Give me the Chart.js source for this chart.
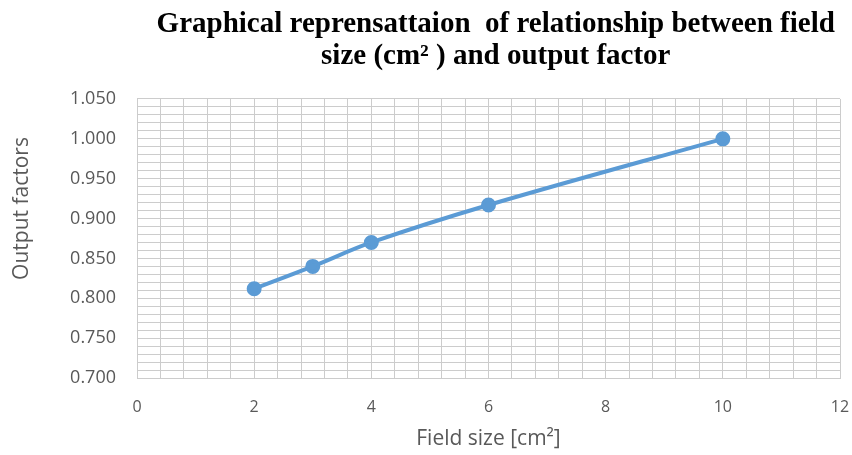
<!DOCTYPE html>
<html>
<head>
<meta charset="utf-8">
<script src="https://cdn.jsdelivr.net/npm/chart.js@4.4.1/dist/chart.umd.min.js"></script>
<style>
  html, body { margin: 0; padding: 0; background: #fff; }
  #wrap { width: 852px; height: 455px; }
</style>
</head>
<body>
<div id="wrap"><canvas id="of-chart"></canvas></div>
<script>
// field size (cm2) vs output factor
const fieldSizes = [2, 3, 4, 6, 10];
const outputFactors = [0.812, 0.840, 0.870, 0.917, 1.000];
const titleLines = ['  Graphical reprensattaion  of relationship between field', '  size (cm\u00B2 ) and output factor'];

const gridColor = '#cccccc';
const labelColor = '#595959';

const ctx = document.getElementById('of-chart').getContext('2d');
new Chart(ctx, {
    type: 'line',
    data: {
        datasets: [{
            label: 'Output factor',
            data: fieldSizes.map((x, i) => ({ x: x, y: outputFactors[i] })),
            borderColor: '#5B9BD5',
            backgroundColor: '#5B9BD5',
            borderWidth: 4,
            pointRadius: 5.5,
            pointHoverRadius: 5.5,
            tension: 0.35,
            fill: false
        }]
    },
    options: {
        responsive: true,
        maintainAspectRatio: false,
        animation: false,
        layout: { padding: { left: 0, right: 12, top: 0, bottom: 0 } },
        plugins: {
            legend: { display: false },
            tooltip: { enabled: false },
            title: {
                display: true,
                text: titleLines,
                fullSize: false,
                color: '#000',
                font: { family: '"Liberation Serif", "Times New Roman", serif', size: 29, weight: 'bold', lineHeight: 1.12 },
                padding: { top: 8, bottom: 26 }
            }
        },
        scales: {
            x: {
                type: 'linear',
                min: 0,
                max: 12,
                border: { display: true, color: gridColor },
                grid: { color: gridColor, drawTicks: false },
                ticks: {
                    stepSize: 0.4,
                    autoSkip: false,
                    maxRotation: 0,
                    padding: 20,
                    color: labelColor,
                    font: { family: '"Open Sans", sans-serif', size: 16 },
                    callback: v => Math.abs(v / 2 - Math.round(v / 2)) < 1e-6 ? Math.round(v) : ''
                },
                title: {
                    display: true,
                    text: 'Field size [cm\u00B2]',
                    color: labelColor,
                    font: { family: '"Open Sans", sans-serif', size: 21 },
                    padding: { top: 0, bottom: 3 }
                },
                afterFit: s => { s.height = 77; s.paddingLeft = 0; s.paddingRight = 0; }
            },
            y: {
                min: 0.7,
                max: 1.05,
                border: { display: true, color: gridColor },
                grid: { color: gridColor, drawTicks: false },
                ticks: {
                    stepSize: 0.01,
                    autoSkip: false,
                    padding: 21,
                    color: labelColor,
                    font: { family: '"Open Sans", sans-serif', size: 18 },
                    callback: v => Math.abs(v / 0.05 - Math.round(v / 0.05)) < 1e-6 ? v.toFixed(3) : ''
                },
                title: {
                    display: true,
                    text: '           Output factors',
                    color: labelColor,
                    font: { family: '"Open Sans", sans-serif', size: 21 },
                    padding: { top: 9, bottom: 0 }
                },
                afterFit: s => { s.width = 137; s.paddingTop = 0; s.paddingBottom = 0; }
            }
        }
    }
});
</script>
</body>
</html>
